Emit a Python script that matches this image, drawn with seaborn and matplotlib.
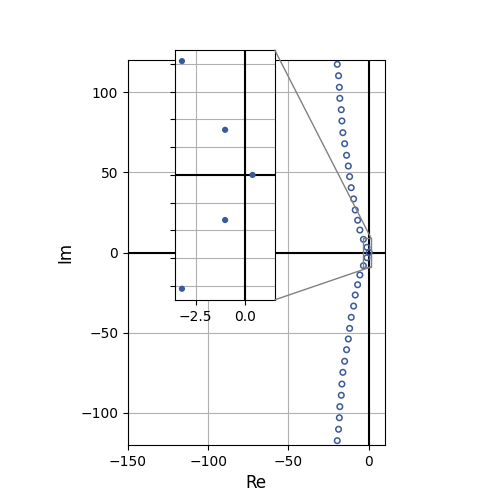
import numpy as np
import pandas as pd
import matplotlib
matplotlib.use("Agg")
import matplotlib.pyplot as plt
from matplotlib.patches import ConnectionPatch
import seaborn as sns

re_parts = [0.4,
            -1.0, -3.2, -5.4, -6.8, -8.3, -9.3, -10.8, -11.8, -12.6, -13.7,
            -14.9, -16.0, -16.6, -17.0, -17.9, -18.2, -18.7, -19.5,
            -1.0, -3.2, -5.4, -6.8, -8.3, -9.3, -10.8, -11.8, -12.6, -13.7,
            -14.9, -16.0, -16.6, -17.0, -17.9, -18.2, -18.7, -19.5]
im_parts = [0.0,
            3.25, 8.2, 14.0, 20.1, 26.5, 33.4, 40.4, 47.3, 53.9, 60.6,
            67.8, 74.7, 82.0, 89.0, 96.1, 103.0, 110.2, 117.3,
            -3.25, -8.2, -14.0, -20.1, -26.5, -33.4, -40.4, -47.3, -53.9, -60.6,
            -67.8, -74.7, -82.0, -89.0, -96.1, -103.0, -110.2, -117.3]

raices = pd.DataFrame({"Re": re_parts, "Im": im_parts})
color = "#3b5a9a"

# Limites del zoom
zx = (-3.56, 1.53)
zy = (-9, 9)

fig, ax = plt.subplots(figsize=(5, 5), dpi=100)

# Grafico principal
ax.axhline(0, color="black", lw=1.5, zorder=2)
ax.axvline(0, color="black", lw=1.5, zorder=2)
sns.scatterplot(data=raices, x="Re", y="Im", ax=ax, marker="o", s=16,
                facecolor="none", edgecolor=color, linewidth=1.1, zorder=3)
ax.set_xlim(-150, 10)
ax.set_ylim(-120, 120)
ax.set_aspect("equal")
ax.set_xticks([-150, -100, -50, 0])
ax.set_yticks([-100, -50, 0, 50, 100])
ax.grid(True, color="#b0b0b0", lw=0.8)
ax.set_xlabel("Re", fontsize=12)
ax.set_ylabel("Im", fontsize=12)

# Zoom cerca del origen
axins = ax.inset_axes([0.183, 0.377, 0.389, 0.649])
axins.axhline(0, color="black", lw=1.5, zorder=2)
axins.axvline(0, color="black", lw=1.5, zorder=2)
sns.scatterplot(data=raices, x="Re", y="Im", ax=axins, s=20, color=color,
                edgecolor="none", zorder=3)
axins.set_xlim(*zx)
axins.set_ylim(*zy)
axins.set_xticks([-2.5, 0.0])
axins.set_yticks(np.arange(-8, 9, 2))
axins.set_yticklabels([])
axins.set_xlabel("")
axins.set_ylabel("")
axins.grid(True, color="#b0b0b0", lw=0.8)

# Rectangulo y lineas de conexion
ax.indicate_inset([zx[0], zy[0], zx[1] - zx[0], zy[1] - zy[0]],
                  edgecolor="0.5", alpha=1, lw=1)
for yi, yd in [(1, zy[1]), (0, zy[0])]:
    con = ConnectionPatch(xyA=(1, yi), coordsA=axins.transAxes,
                          xyB=(zx[1], yd), coordsB=ax.transData,
                          color="0.5", lw=1)
    fig.add_artist(con)

fig.savefig("out.png", dpi=100)
